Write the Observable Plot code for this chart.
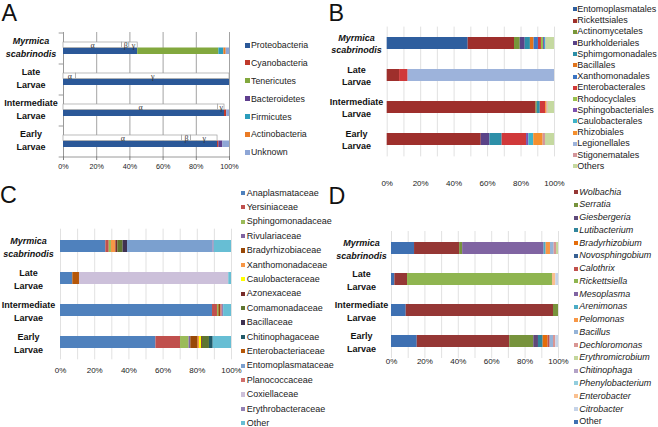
<!DOCTYPE html>
<html><head><meta charset="utf-8">
<script src="https://cdn.jsdelivr.net/npm/d3@7"></script>
<script src="https://cdn.jsdelivr.net/npm/@observablehq/plot@0.6"></script>
<style>
body{margin:0;background:#fff;}
#fig{position:relative;width:658px;height:427px;overflow:hidden;font-family:"Liberation Sans",Arial,sans-serif;background:#fff;}
.letter{position:absolute;font-size:23.3px;line-height:1;color:#111;}
</style></head><body><div id="fig"></div>
<script>
const FONT = '"Liberation Sans", Arial, sans-serif';
const categories = ["Myrmica scabrinodis", "Late Larvae", "Intermediate Larvae", "Early Larvae"];
const categoryLabels = ["Myrmica\nscabrinodis", "Late\nLarvae", "Intermediate\nLarvae", "Early\nLarvae"];
const ticksA = [0, 20, 40, 60, 80, 100];
const ticksBCD = [0, 20, 40, 60, 80, 100];
const gridTenths = [0, 10, 20, 30, 40, 50, 60, 70, 80, 90, 100];

// Panel A: phyla
const phylaA = ["Proteobacteria", "Cyanobacteria", "Tenericutes", "Bacteroidetes", "Firmicutes", "Actinobacteria", "Unknown"];
const colorsA = ["#2B5898", "#C0392B", "#82A83E", "#5F3F8E", "#2B9CBB", "#EA7B25", "#8EA6D6"];
const valuesA = [
  [44.7, 0, 48.9, 0, 3.0, 1.4, 2.0],
  [100, 0, 0, 0, 0, 0, 0],
  [97.0, 1.3, 0, 0, 0, 0, 1.7],
  [92.8, 0.8, 0, 2.4, 0, 0, 4.0]
];
const subdivisionsA = ["α", "β", "γ"];
const subValuesA = [
  [35.2, 4.5, 5.0],
  [7.5, 0, 92.5],
  [93.0, 0, 4.0],
  [71.4, 5.5, 15.9]
];

// Panel B: orders
const ordersB = ["Entomoplasmatales", "Rickettsiales", "Actinomycetales", "Burkholderiales", "Sphimgomonadales", "Bacillales", "Xanthomonadales", "Enterobacterales", "Rhodocyclales", "Sphingobacteriales", "Caulobacterales", "Rhizobiales", "Legionellales", "Stigonematales", "Others"];
const colorsB = ["#2E5E9E", "#9E2F2C", "#77973A", "#5A4388", "#2D8FA8", "#E0731C", "#3C74C2", "#D0393A", "#98C04F", "#7C52B0", "#3FB3C9", "#F48F2E", "#9DB3DB", "#D3959A", "#C5D9A0"];
const valuesB = [
  [48.4, 27.7, 3.4, 3.0, 3.1, 2.2, 2.6, 1.8, 1.2, 0.6, 0.8, 0, 0, 0.3, 4.9],
  [0, 7.4, 0, 0, 0, 0, 0, 5.1, 0, 0, 0, 0, 87.5, 0, 0],
  [0, 89.0, 0.7, 0, 1.8, 0, 0, 3.2, 0, 0, 0, 0.8, 0, 0.7, 3.8],
  [0, 56.2, 0, 5.2, 7.3, 0, 0, 14.6, 0, 1.4, 2.9, 5.6, 0, 1.4, 5.4]
];

// Panel C: families
const familiesC = ["Anaplasmataceae", "Yersiniaceae", "Sphingomonadaceae", "Rivulariaceae", "Bradyrhizobiaceae", "Xanthomonadaceae", "Caulobacteraceae", "Azonexaceae", "Comamonadaceae", "Bacillaceae", "Chitinophagaceae", "Enterobacteriaceae", "Entomoplasmataceae", "Planococcaceae", "Coxiellaceae", "Erythrobacteraceae", "Other"];
const colorsC = ["#4F81BD", "#C0504D", "#9BBB59", "#8064A2", "#984807", "#F79646", "#FFFF00", "#772C2A", "#5F7530", "#3F3151", "#215968", "#B65708", "#7BA0CF", "#D16F6C", "#CCC0DA", "#9382B5", "#67BED4"];
const valuesC = [
  [26.5, 2.0, 1.3, 0, 0, 2.6, 0, 1.1, 3.1, 2.6, 0, 0, 49.9, 0, 0, 0.8, 10.1],
  [7.2, 0, 0, 0, 0, 0, 0, 0, 0, 0, 0, 3.9, 0, 0, 87.3, 0, 1.6],
  [88.9, 2.9, 0.8, 0, 1.2, 0, 0, 0, 0, 0, 0, 0, 0, 0.8, 0, 0.8, 4.6],
  [55.8, 14.4, 5.0, 1.0, 4.3, 0.8, 1.2, 0.5, 4.1, 0, 2.2, 0, 0, 0, 0, 0, 10.7]
];

// Panel D: genera
const generaD = ["Wolbachia", "Serratia", "Giesbergeria", "Lutibacterium", "Bradyrhizobium", "Novosphingobium", "Calothrix", "Rickettsiella", "Mesoplasma", "Arenimonas", "Pelomonas", "Bacillus", "Dechloromonas", "Erythromicrobium", "Chitinophaga", "Phenylobacterium", "Enterobacter", "Citrobacter", "Other"];
const colorsD = ["#953735", "#77933C", "#5F497A", "#31859C", "#E46C0A", "#376092", "#C0504D", "#8FB550", "#8064A2", "#4BACC6", "#F79646", "#95B3D7", "#D99694", "#C3D69B", "#B3A2C7", "#93CDDD", "#FAC090", "#C5D3E8", "#3E70B2"];
const valuesD = [
  [27.0, 1.8, 0, 0, 0, 0, 0, 0, 48.8, 1.2, 2.6, 2.2, 1.4, 1.2, 0, 0, 0, 0, 13.8],
  [7.6, 0, 0, 0, 0, 0, 0, 86.8, 0, 0, 0, 0, 0, 0, 0, 0, 2.0, 1.6, 2.0],
  [88.2, 3.0, 0, 0, 0, 0, 0, 0, 0, 0, 0, 0, 0, 0, 0, 0, 0, 0, 8.8],
  [55.4, 14.4, 2.8, 2.8, 3.0, 0, 1.2, 0, 0, 0, 0, 2.0, 1.4, 0, 0, 0, 0, 1.6, 15.4]
];
const stackOrderD = ["Other"].concat(generaD.filter(g => g !== "Other"));

const fig = document.getElementById("fig");

function tidy(series, values, order) {
  const out = [];
  categories.forEach((cat, i) => {
    for (const s of (order || series)) {
      const v = values[i][series.indexOf(s)];
      if (v > 0) out.push({cat, series: s, value: v});
    }
  });
  return out;
}

function labelMarks(dx, dy = 0) {
  const lab = d => categoryLabels[categories.indexOf(d)];
  const common = {y: d => d, text: lab, frameAnchor: "left", dx, dy, textAnchor: "middle", lineAnchor: "middle",
    fontWeight: "bold", fontSize: 9, lineHeight: 1.38, fill: "#111"};
  return [
    Plot.text(categories.slice(0, 1), {...common, fontStyle: "italic"}),
    Plot.text(categories.slice(1), common)
  ];
}

function place(cfg) {
  const plot = Plot.plot({
    width: cfg.width, height: cfg.height,
    marginLeft: cfg.ml, marginRight: cfg.mr, marginTop: cfg.mt, marginBottom: cfg.mb,
    style: {fontFamily: FONT, color: "#222", background: "transparent", overflow: "visible"},
    x: {domain: [0, 100], label: null},
    y: {domain: categories, paddingInner: cfg.pi, paddingOuter: cfg.pi / 2, axis: null, label: null},
    color: {domain: cfg.series, range: cfg.colors},
    marks: cfg.marks
  });
  plot.style.position = "absolute";
  plot.style.left = cfg.left + "px";
  plot.style.top = cfg.top + "px";
  fig.appendChild(plot);
}

function legend({x0, size, textX, y0, step, names, colors, fontSize, italic}) {
  names.forEach((n, i) => {
    const y = y0 + i * step;
    const sw = document.createElement("div");
    sw.style.cssText = `position:absolute;left:${x0}px;top:${y - size / 2}px;width:${size}px;height:${size}px;background:${colors[i]}`;
    const t = document.createElement("div");
    t.textContent = n;
    t.style.cssText = `position:absolute;left:${textX}px;top:${y - fontSize * 0.6}px;font-size:${fontSize}px;line-height:${fontSize * 1.2}px;white-space:nowrap;color:#222;font-style:${italic && italic(n) ? "italic" : "normal"}`;
    fig.appendChild(sw);
    fig.appendChild(t);
  });
}

function letter(txt, left, top) {
  const d = document.createElement("div");
  d.className = "letter";
  d.textContent = txt;
  d.style.left = left + "px";
  d.style.top = top + "px";
  fig.appendChild(d);
}

const axisOpts = {tickFormat: d => d + "%", label: null, fill: "#222"};

// ---------- Panel A ----------
{
  const mt = 32, bottom = 156, H = 190;
  const step = (bottom - mt) / categories.length;
  const dataA = tidy(phylaA, valuesA);
  const subA = tidy(subdivisionsA, subValuesA);
  place({
    left: 0, top: 0, width: 240, height: H, ml: 63, mr: 11, mt, mb: H - bottom, pi: 0.613,
    series: phylaA, colors: colorsA,
    marks: [
      Plot.ruleX(ticksA.slice(1), {stroke: "#8c8c8c", strokeWidth: 0.8}),
      Plot.ruleX([0], {stroke: "#808080", strokeWidth: 0.8}),
      Plot.ruleY(categories, {y: d => d, dy: -step / 2, x1: -2.6, x2: 0, stroke: "#808080", strokeWidth: 0.8}),
      Plot.ruleY(categories.slice(-1), {y: d => d, dy: step / 2, x1: -2.6, x2: 100, stroke: "#808080", strokeWidth: 0.8}),
      Plot.barX(dataA, {x: "value", y: "cat", fill: "series", insetTop: 5.5}),
      Plot.barX(subA, {x: "value", y: "cat", fill: "white", stroke: "#a0a0a0", strokeWidth: 0.7, insetBottom: 6.5}),
      Plot.text(subA, Plot.stackX({x: "value", y: "cat", text: "series", dy: -3.2, fontSize: 8,
        fontFamily: '"Liberation Serif", serif', fill: "#333"})),
      Plot.axisX({...axisOpts, ticks: ticksA, tickSize: 4, tickPadding: 3.5, fontSize: 7.2, stroke: "#808080"}),
      ...labelMarks(30.5 - 63, -2)
    ]
  });
  legend({x0: 244.5, size: 5, textX: 251, y0: 45, step: 17.95, names: phylaA, colors: colorsA, fontSize: 8.8});
}

// ---------- Panel B ----------
{
  const H = 190, mt = 26.6, bottom = 156.4, ml = 56.7;
  place({
    left: 330, top: 0, width: 240, height: H, ml, mr: 16, mt, mb: H - bottom, pi: 0.621,
    series: ordersB, colors: colorsB,
    marks: [
      Plot.ruleX(gridTenths, {stroke: "#d9d9d9", strokeWidth: 0.8}),
      Plot.barX(tidy(ordersB, valuesB), {x: "value", y: "cat", fill: "series"}),
      Plot.axisX({...axisOpts, ticks: ticksBCD, tickSize: 0, tickPadding: 23.5, fontSize: 8}),
      ...labelMarks(26 - ml, -0.5)
    ]
  });
  legend({x0: 572.7, size: 4, textX: 577.3, y0: 9.3, step: 11.2, names: ordersB, colors: colorsB, fontSize: 9});
}

// ---------- Panel C ----------
{
  const top = 190, H = 237, mt = 38.7, bottom = 169.3, ml = 60;
  place({
    left: 0, top, width: 240, height: H, ml, mr: 9, mt, mb: H - bottom, pi: 0.617,
    series: familiesC, colors: colorsC,
    marks: [
      Plot.ruleX(gridTenths, {stroke: "#d9d9d9", strokeWidth: 0.8}),
      Plot.barX(tidy(familiesC, valuesC), {x: "value", y: "cat", fill: "series"}),
      Plot.axisX({...axisOpts, ticks: ticksBCD, tickSize: 0, tickPadding: 7.9, fontSize: 8}),
      ...labelMarks(28 - ml)
    ]
  });
  legend({x0: 240.7, size: 4.3, textX: 246.7, y0: 192.9, step: 14.4, names: familiesC, colors: colorsC, fontSize: 9});
}

// ---------- Panel D ----------
{
  const top = 190, H = 237, mt = 41, bottom = 168, ml = 61;
  place({
    left: 330, top, width: 240, height: H, ml, mr: 12, mt, mb: H - bottom, pi: 0.597,
    series: generaD, colors: colorsD,
    marks: [
      Plot.ruleX(gridTenths, {stroke: "#d9d9d9", strokeWidth: 0.8}),
      Plot.barX(tidy(generaD, valuesD, stackOrderD), {x: "value", y: "cat", fill: "series"}),
      Plot.axisX({...axisOpts, ticks: ticksBCD, tickSize: 0, tickPadding: 0, fontSize: 8}),
      ...labelMarks(31 - ml)
    ]
  });
  legend({x0: 574.3, size: 4, textX: 579.3, y0: 192, step: 12.76, names: generaD, colors: colorsD, fontSize: 9,
    italic: n => n !== "Other"});
}

letter("A", 1.5, 1.5);
letter("B", 328.5, 1.5);
letter("C", 0, 183.7);
letter("D", 328.5, 185);
</script></body></html>
